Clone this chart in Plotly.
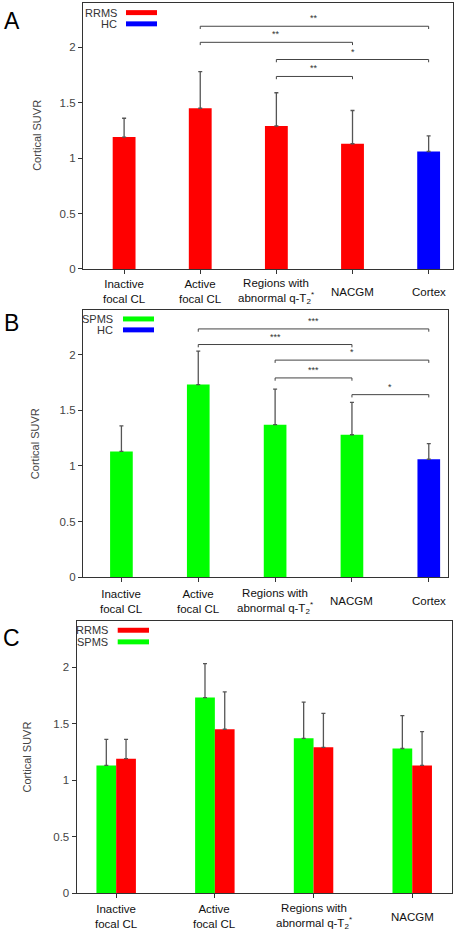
import plotly.graph_objects as go

W, H = 455, 938
FONT = "Liberation Sans, Arial, sans-serif"

# ---------------- data ----------------
cats_ab = ["Inactive<br>focal CL", "Active<br>focal CL",
           "Regions with<br>abnormal q-T<sub>2</sub><sup>*</sup>", "NACGM", "Cortex"]
cats_c = cats_ab[:4]

rrms_mean = [1.19, 1.45, 1.29, 1.13]
rrms_sd = [0.17, 0.33, 0.30, 0.30]
spms_mean = [1.13, 1.73, 1.37, 1.28]
spms_sd = [0.23, 0.30, 0.32, 0.29]
hc_mean = [1.06]
hc_sd = [0.14]

brackets_a = [(1, 4), (1, 3), (2, 4), (2, 3)]
heights_a = [2.19, 2.045, 1.89, 1.737]
stars_a = ["**", "**", "*", "**"]

brackets_b = [(1, 4), (1, 3), (2, 4), (2, 3), (3, 4)]
heights_b = [2.23, 2.09, 1.95, 1.79, 1.64]
stars_b = ["***", "***", "*", "***", "*"]

RED, GREEN, BLUE = "#ff0000", "#00ff00", "#0000ff"


def px(p):
    return 1 - p / H


def pxx(p):
    return p / W


fig = go.Figure()


def err(sd):
    return dict(type="data", array=sd, arrayminus=[0] * len(sd), symmetric=False,
                color="#555555", thickness=1.3, width=2)


# Panel A
fig.add_bar(x=list(range(4)), y=rrms_mean, error_y=err(rrms_sd), marker_color=RED,
            width=0.30, offset=-0.15, xaxis="x", yaxis="y", showlegend=False)
fig.add_bar(x=[4], y=hc_mean, error_y=err(hc_sd), marker_color=BLUE,
            width=0.30, offset=-0.15, xaxis="x", yaxis="y", showlegend=False)
# Panel B
fig.add_bar(x=list(range(4)), y=spms_mean, error_y=err(spms_sd), marker_color=GREEN,
            width=0.295, offset=-0.1475, xaxis="x2", yaxis="y2", showlegend=False)
fig.add_bar(x=[4], y=hc_mean, error_y=err(hc_sd), marker_color=BLUE,
            width=0.295, offset=-0.1475, xaxis="x2", yaxis="y2", showlegend=False)
# Panel C
fig.add_bar(x=list(range(4)), y=spms_mean, error_y=err(spms_sd), marker_color=GREEN,
            width=0.2, offset=-0.2, xaxis="x3", yaxis="y3", showlegend=False)
fig.add_bar(x=list(range(4)), y=rrms_mean, error_y=err(rrms_sd), marker_color=RED,
            width=0.2, offset=0.0, xaxis="x3", yaxis="y3", showlegend=False)

for tr in fig.data:
    tr.marker.line.width = 0

axcol = "#333333"


def xax(dom, rng, n, anchor):
    return dict(domain=dom, range=rng, tickvals=list(range(n)), showticklabels=False,
                ticks="outside", ticklen=4, tickcolor=axcol, showline=True, linecolor=axcol,
                linewidth=1.3, mirror=True, showgrid=False, zeroline=False, anchor=anchor)


def yax(dom, rng, anchor):
    return dict(domain=dom, range=rng, tickvals=[0, 0.5, 1, 1.5, 2],
                ticktext=["0", "0.5", "1", "1.5", "2"],
                ticks="outside", ticklen=4, tickcolor=axcol, showline=True, linecolor=axcol,
                linewidth=1.3, mirror=True, showgrid=False, zeroline=False, anchor=anchor,
                tickfont=dict(family=FONT, size=11.5, color="#444444"))


fig.update_layout(
    width=W, height=H, margin=dict(l=0, r=0, t=0, b=0),
    paper_bgcolor="white", plot_bgcolor="white", barmode="overlay",
    xaxis=xax([pxx(83), pxx(453)], [-0.54, 4.32], 5, "y"),
    yaxis=yax([px(270.7), px(3)], [0, 2.40], "x"),
    xaxis2=xax([pxx(83), pxx(448)], [-0.5, 4.25], 5, "y2"),
    yaxis2=yax([px(581), px(312)], [0, 2.40], "x2"),
    xaxis3=xax([pxx(76.7), pxx(451.7)], [-0.4, 3.4], 4, "y3"),
    yaxis3=yax([px(899), px(624.7)], [0, 2.41], "x3"),
)

shapes = []
annos = []


def add_brackets(pairs, heights, stars, xr, yr, drop):
    for (a, b), h, s in zip(pairs, heights, stars):
        shapes.append(dict(type="path", xref=xr, yref=yr,
                           path=f"M {a},{h - drop} L {a},{h} L {b},{h} L {b},{h - drop}",
                           line=dict(color="#444444", width=1)))
        annos.append(dict(x=(a + b) / 2, y=h, xref=xr, yref=yr, text=s, showarrow=False,
                          yanchor="bottom", yshift=1,
                          font=dict(family=FONT, size=9, color="#333333")))


add_brackets(brackets_a, heights_a, stars_a, "x", "y", 0.025)
add_brackets(brackets_b, heights_b, stars_b, "x2", "y2", 0.025)

# category labels
for cats, xr, yc in [(cats_ab, "x", 293.7), (cats_ab, "x2", 605), (cats_c, "x3", 922.7)]:
    for i, c in enumerate(cats):
        annos.append(dict(x=i, y=px(yc), xref=xr, yref="paper", text=c, showarrow=False,
                          yanchor="middle", xanchor="center",
                          font=dict(family=FONT, size=11.5, color="#111111")))

# y titles
for xc, yc in [(37, 136.7), (35, 447), (26.7, 761.7)]:
    annos.append(dict(x=pxx(xc), y=px(yc), xref="paper", yref="paper", text="Cortical SUVR",
                      textangle=-90, showarrow=False, xanchor="center", yanchor="middle",
                      font=dict(family=FONT, size=11, color="#444444")))

# panel letters
for t, xc, yc in [("A", 11.5, 21.5), ("B", 11, 325), ("C", 11, 641.7)]:
    annos.append(dict(x=pxx(xc), y=px(yc), xref="paper", yref="paper", text=t,
                      showarrow=False, xanchor="center", yanchor="middle",
                      font=dict(family=FONT, size=23, color="#000000")))

# legends
legends = [
    [("RRMS", RED, 12.7), ("HC", BLUE, 24)], 119, 126, 157,
    [("SPMS", GREEN, 321), ("HC", BLUE, 332)], 115, 123, 154,
    [("RRMS", RED, 634.3), ("SPMS", GREEN, 646)], 110, 117.7, 149,
]
for k in range(0, len(legends), 4):
    items, tx, x0, x1 = legends[k:k + 4]
    for name, col, yc in items:
        annos.append(dict(x=pxx(tx), y=px(yc), xref="paper", yref="paper", text=name,
                          showarrow=False, xanchor="right", yanchor="middle",
                          font=dict(family=FONT, size=11, color="#333333")))
        shapes.append(dict(type="rect", xref="paper", yref="paper",
                           x0=pxx(x0), x1=pxx(x1), y0=px(yc + 2.5), y1=px(yc - 2.5),
                           fillcolor=col, line=dict(width=0)))

fig.update_layout(shapes=shapes, annotations=annos)
fig.write_html("out.html", config={"displayModeBar": False},
               post_script="document.body.style.margin='0';document.body.style.overflow='hidden';")
